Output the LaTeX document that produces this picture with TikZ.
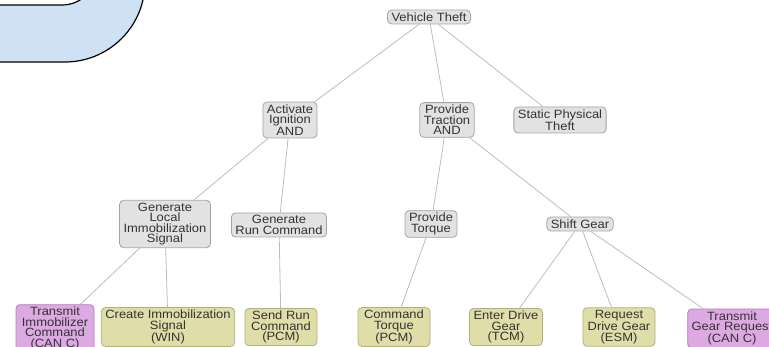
\documentclass[tikz,border=0pt]{standalone}
\usepackage{fontspec}
\setmainfont[FakeStretch=1.08]{Liberation Sans}
\usepackage{tikz}
\definecolor{mgray}{HTML}{E2E2E2}
\definecolor{mgrayline}{HTML}{A4A4A4}
\definecolor{molive}{HTML}{E0DEA8}
\definecolor{moliveline}{HTML}{B2AF78}
\definecolor{mpink}{HTML}{DDA9E2}
\definecolor{mpinkline}{HTML}{B07FB8}
\definecolor{mblue}{HTML}{CFE2F3}
\definecolor{medge}{HTML}{BDBDBD}
\definecolor{mtext}{HTML}{333333}

\begin{document}
\begin{tikzpicture}[x=1pt, y=-1pt,
        box/.style={draw, line width=0.8pt, rounded corners=4pt, align=center,
            inner xsep=4pt, inner ysep=2.5pt, text=mtext,
            font=\fontsize{12}{10.5}\selectfont},
        goal/.style={box, fill=mgray, draw=mgrayline},
        leaf/.style={box, fill=molive, draw=moliveline, minimum width=72pt, minimum height=36pt},
        bus/.style={box, fill=mpink, draw=mpinkline, minimum width=78pt, minimum height=36pt},
        link/.style={draw=medge, line width=0.8pt}]
            \useasboundingbox (0, 0) rectangle (769, 347);
            % corner of the callout, cut by the page
            \draw[line width=1.2pt, fill=mblue, rounded corners=80pt] (-200, -200) rectangle (145, 62);
            \draw[line width=1.2pt, fill=white, rounded corners=35pt] (-200, -200) rectangle (97, 5);
            % attack tree
            \node[goal] (theft) at (429, 17) {Vehicle Theft};
            \node[goal] (ignition) at (290, 120) {Activate\\Ignition\\AND};
            \node[goal] (traction) at (447, 120) {Provide\\Traction\\AND};
            \node[goal] (static) at (560, 120) {Static Physical\\Theft};
            \node[goal] (immob) at (165, 224) {Generate\\Local\\Immobilization\\Signal};
            \node[goal] (runcmd) at (279, 225) {Generate\\Run Command};
            \node[goal] (torque) at (431, 224) {Provide\\Torque};
            \node[goal] (shift) at (580, 224) {Shift Gear};
            \node[bus] (txImmob) at (55, 328.5) {Transmit\\Immobilizer\\Command\\(CAN C)};
            \node[leaf] (createImmob) at (168, 327) {Create Immobilization\\Signal\\(WIN)};
            \node[leaf] (sendRun) at (281, 327) {Send Run\\Command\\(PCM)};
            \node[leaf] (cmdTorque) at (394, 327) {Command\\Torque\\(PCM)};
            \node[leaf] (enterGear) at (506, 327) {Enter Drive\\Gear\\(TCM)};
            \node[leaf] (reqGear) at (619, 327) {Request\\Drive Gear\\(ESM)};
            \node[bus] (txGear) at (732, 328.5) {Transmit\\Gear Request\\(CAN C)};
            \draw[link] (theft) -- (ignition);
            \draw[link] (theft) -- (traction);
            \draw[link] (theft) -- (static);
            \draw[link] (ignition) -- (immob);
            \draw[link] (ignition) -- (runcmd);
            \draw[link] (traction) -- (torque);
            \draw[link] (traction) -- (shift);
            \draw[link] (immob) -- (txImmob);
            \draw[link] (immob) -- (createImmob);
            \draw[link] (runcmd) -- (sendRun);
            \draw[link] (torque) -- (cmdTorque);
            \draw[link] (shift) -- (enterGear);
            \draw[link] (shift) -- (reqGear);
            \draw[link] (shift) -- (txGear);
        \end{tikzpicture}
\end{document}
